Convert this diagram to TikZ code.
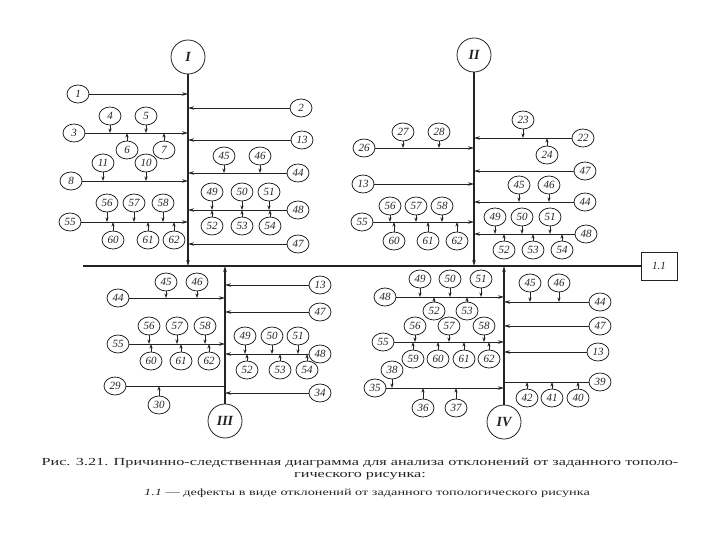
\documentclass[tikz,border=0pt]{standalone}
\usepackage{fontspec}
\setmainfont{Liberation Serif}
\newfontfamily\capfont[FakeStretch=1.5]{Liberation Serif}
\usepackage{tikz}
\usetikzlibrary{arrows.meta,shapes.geometric}
\definecolor{inkcolor}{RGB}{35,35,35}

\begin{document}
\begin{tikzpicture}[x=1pt, y=-1pt, line width=0.8pt, inkcolor,
    cause/.style={draw, ellipse, minimum width=22pt, minimum height=18pt, inner sep=0pt,
      font=\fontsize{11}{11}\selectfont\itshape},
    group/.style={draw, circle, minimum size=34pt, inner sep=0pt,
      font=\fontsize{14}{14}\selectfont\bfseries\itshape},
    effect/.style={draw, line width=1pt, minimum width=36pt, minimum height=28pt, inner sep=0pt,
      font=\fontsize{11}{11}\selectfont\itshape},
    spine/.style={line width=1.3pt},
    branch/.style={-{Stealth[length=6pt,width=3.5pt]}},
    twig/.style={-{Stealth[length=4.5pt,width=3.2pt]}}]
  \useasboundingbox (0,0) rectangle (720,540);

  % main line and effect
  \node[effect] (eff) at (659,266) {1.1};
  \coordinate (start) at (83,266);
  \draw[spine] (start) -- (eff);

  % (I) upper left
  \node[group] (I) at (188,57) {I};
  \draw[spine, branch] (I) -- (I |- eff);
  \node[cause] (a1) at (78,94) {1};
  \draw[branch] (a1) -- (a1 -| I);
  \node[cause] (a3) at (74,133) {3};
  \draw[branch] (a3) -- (a3 -| I);
  \foreach \n/\x/\y in {4/110/116, 5/146/116, 6/127/150, 7/164/150}
    {\node[cause] (a\n) at (\x,\y) {\n};
     \draw[twig] (a\n) -- (a\n |- a3);}
  \node[cause] (a8) at (71,181) {8};
  \draw[branch] (a8) -- (a8 -| I);
  \foreach \n/\x/\y in {11/103/163, 10/146/163}
    {\node[cause] (a\n) at (\x,\y) {\n};
     \draw[twig] (a\n) -- (a\n |- a8);}
  \node[cause] (a55) at (70,222) {55};
  \draw[branch] (a55) -- (a55 -| I);
  \foreach \n/\x/\y in {56/107/203, 57/134/203, 58/163/203, 60/113/240, 61/148/240, 62/174/240}
    {\node[cause] (a\n) at (\x,\y) {\n};
     \draw[twig] (a\n) -- (a\n |- a55);}
  \node[cause] (a2) at (301,108) {2};
  \draw[branch] (a2) -- (a2 -| I);
  \node[cause] (a13) at (302,140) {13};
  \draw[branch] (a13) -- (a13 -| I);
  \node[cause] (a44) at (298,173) {44};
  \draw[branch] (a44) -- (a44 -| I);
  \foreach \n/\x/\y in {45/224/156, 46/260/156}
    {\node[cause] (a\n) at (\x,\y) {\n};
     \draw[twig] (a\n) -- (a\n |- a44);}
  \node[cause] (a48) at (298,210) {48};
  \draw[branch] (a48) -- (a48 -| I);
  \foreach \n/\x/\y in {49/212/192, 50/242/192, 51/269/192, 52/212/226, 53/242/226, 54/270/226}
    {\node[cause] (a\n) at (\x,\y) {\n};
     \draw[twig] (a\n) -- (a\n |- a48);}
  \node[cause] (a47) at (298,244) {47};
  \draw[branch] (a47) -- (a47 -| I);

  % (II) upper right
  \node[group] (II) at (474,55) {II};
  \draw[spine, branch] (II) -- (II |- eff);
  \node[cause] (b26) at (364,148) {26};
  \draw[branch] (b26) -- (b26 -| II);
  \foreach \n/\x/\y in {27/403/132, 28/439/132}
    {\node[cause] (b\n) at (\x,\y) {\n};
     \draw[twig] (b\n) -- (b\n |- b26);}
  \node[cause] (b13) at (363,184) {13};
  \draw[branch] (b13) -- (b13 -| II);
  \node[cause] (b55) at (362,222) {55};
  \draw[branch] (b55) -- (b55 -| II);
  \foreach \n/\x/\y in {56/390/206, 57/416/206, 58/442/206, 60/394/241, 61/428/241, 62/457/241}
    {\node[cause] (b\n) at (\x,\y) {\n};
     \draw[twig] (b\n) -- (b\n |- b55);}
  \node[cause] (b22) at (583,138) {22};
  \draw[branch] (b22) -- (b22 -| II);
  \foreach \n/\x/\y in {23/523/120, 24/547/155}
    {\node[cause] (b\n) at (\x,\y) {\n};
     \draw[twig] (b\n) -- (b\n |- b22);}
  \node[cause] (b47) at (585,171) {47};
  \draw[branch] (b47) -- (b47 -| II);
  \node[cause] (b44) at (585,202) {44};
  \draw[branch] (b44) -- (b44 -| II);
  \foreach \n/\x/\y in {45/519/185, 46/549/185}
    {\node[cause] (b\n) at (\x,\y) {\n};
     \draw[twig] (b\n) -- (b\n |- b44);}
  \node[cause] (b48) at (586,234) {48};
  \draw[branch] (b48) -- (b48 -| II);
  \foreach \n/\x/\y in {49/495/217, 50/522/217, 51/550/217, 52/504/250, 53/533/250, 54/562/250}
    {\node[cause] (b\n) at (\x,\y) {\n};
     \draw[twig] (b\n) -- (b\n |- b48);}

  % (III) lower left
  \node[group] (III) at (225,421) {III};
  \draw[spine, branch] (III) -- (III |- eff);
  \node[cause] (c44) at (118,298) {44};
  \draw[branch] (c44) -- (c44 -| III);
  \foreach \n/\x/\y in {45/166/282, 46/197/282}
    {\node[cause] (c\n) at (\x,\y) {\n};
     \draw[twig] (c\n) -- (c\n |- c44);}
  \node[cause] (c55) at (118,344) {55};
  \draw[branch] (c55) -- (c55 -| III);
  \foreach \n/\x/\y in {56/149/326, 57/177/326, 58/205/326, 60/151/361, 61/181/361, 62/209/361}
    {\node[cause] (c\n) at (\x,\y) {\n};
     \draw[twig] (c\n) -- (c\n |- c55);}
  \node[cause] (c29) at (115,386) {29};
  \draw (c29) -- (c29 -| III);
  \node[cause] (c30) at (159,405) {30};
  \draw[twig] (c30) -- (c30 |- c29);
  \node[cause] (c13) at (320,285) {13};
  \draw[branch] (c13) -- (c13 -| III);
  \node[cause] (c47) at (320,312) {47};
  \draw[branch] (c47) -- (c47 -| III);
  \node[cause] (c48) at (320,354) {48};
  \draw[branch] (c48) -- (c48 -| III);
  \foreach \n/\x/\y in {49/245/336, 50/272/336, 51/298/336, 52/247/370, 53/280/370, 54/307/370}
    {\node[cause] (c\n) at (\x,\y) {\n};
     \draw[twig] (c\n) -- (c\n |- c48);}
  \node[cause] (c34) at (320,393) {34};
  \draw[branch] (c34) -- (c34 -| III);

  % (IV) lower right
  \node[group] (IV) at (504,422) {IV};
  \draw[spine, branch] (IV) -- (IV |- eff);
  \node[cause] (d48) at (385,297) {48};
  \draw[branch] (d48) -- (d48 -| IV);
  \foreach \n/\x/\y in {49/420/279, 50/450/279, 51/481/279, 52/434/311, 53/467/311}
    {\node[cause] (d\n) at (\x,\y) {\n};
     \draw[twig] (d\n) -- (d\n |- d48);}
  \node[cause] (d55) at (383,342) {55};
  \draw[branch] (d55) -- (d55 -| IV);
  \foreach \n/\x/\y in {56/415/326, 57/449/326, 58/484/326, 59/413/359, 60/438/359, 61/464/359, 62/489/359}
    {\node[cause] (d\n) at (\x,\y) {\n};
     \draw[twig] (d\n) -- (d\n |- d55);}
  \node[cause] (d35) at (375,388) {35};
  \draw[branch] (d35) -- (d35 -| IV);
  \foreach \n/\x/\y in {38/392/370, 36/423/408, 37/456/408}
    {\node[cause] (d\n) at (\x,\y) {\n};
     \draw[twig] (d\n) -- (d\n |- d35);}
  \node[cause] (d44) at (600,302) {44};
  \draw[branch] (d44) -- (d44 -| IV);
  \foreach \n/\x/\y in {45/530/283, 46/559/283}
    {\node[cause] (d\n) at (\x,\y) {\n};
     \draw[twig] (d\n) -- (d\n |- d44);}
  \node[cause] (d47) at (600,326) {47};
  \draw[branch] (d47) -- (d47 -| IV);
  \node[cause] (d13) at (598,352) {13};
  \draw[branch] (d13) -- (d13 -| IV);
  \node[cause] (d39) at (600,382) {39};
  \draw (d39) -- (d39 -| IV);
  \foreach \n/\x/\y in {42/527/398, 41/552/398, 40/578/398}
    {\node[cause] (d\n) at (\x,\y) {\n};
     \draw[twig] (d\n) -- (d\n |- d39);}

  % caption
  \node[font=\capfont\fontsize{10.8}{12}\selectfont] (cap1) at (360,463)
    {Рис. 3.21. Причинно-следственная диаграмма для анализа отклонений от заданного тополо-};
  \node[font=\capfont\fontsize{10.8}{12}\selectfont] (cap2) at (360,476) {гического рисунка:};
  \node[font=\capfont\fontsize{9.5}{11}\selectfont] (cap3) at (367,493)
    {\textit{1.1} — дефекты в виде отклонений от заданного топологического рисунка};
\end{tikzpicture}
\end{document}
